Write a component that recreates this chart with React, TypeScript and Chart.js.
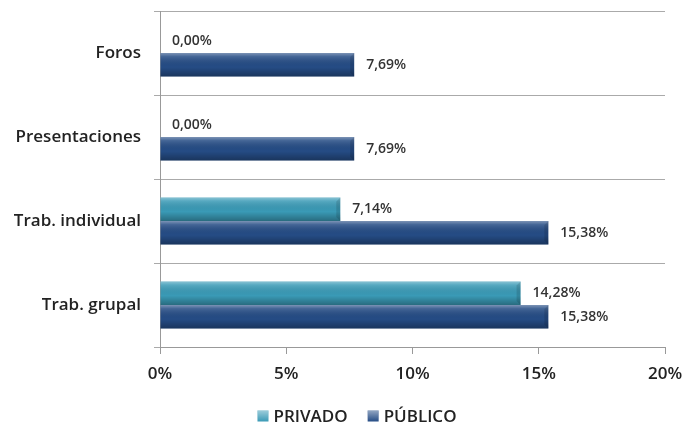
import React, { useEffect, useRef } from "react";
import { Chart, registerables } from "chart.js";
Chart.register(...registerables);

const categories = ["Foros", "Presentaciones", "Trab. individual", "Trab. grupal"];
const privado = [0.0, 0.0, 7.14, 14.28];
const publico = [7.69, 7.69, 15.38, 15.38];
const seriesNames = ["PRIVADO", "PÚBLICO"];
const seriesColors = ["#3A9AB6", "#254C85"];
const xTicks = [0, 5, 10, 15, 20];

const FONT = "'Open Sans', Lato, sans-serif";

const fmt = (v: number) => v.toFixed(2).replace(".", ",") + "%";

const bevelPlugin = {
  id: "bevel",
  afterDatasetsDraw(chart: any) {
    const ctx = chart.ctx;
    chart.data.datasets.forEach((ds: any, di: number) => {
      const meta = chart.getDatasetMeta(di);
      meta.data.forEach((bar: any, i: number) => {
        const { x, y, base, height } = bar.getProps(["x", "y", "base", "height"], true);
        const top = y - height / 2;
        const w = x - base;
        if (w > 1) {
          const g = ctx.createLinearGradient(0, top, 0, top + height);
          g.addColorStop(0, "rgba(255,255,255,0.4)");
          g.addColorStop(0.15, "rgba(255,255,255,0.15)");
          g.addColorStop(0.6, "rgba(0,0,0,0)");
          g.addColorStop(1, "rgba(0,0,0,0.3)");
          ctx.save();
          ctx.fillStyle = g;
          ctx.fillRect(base, top, w, height);
          ctx.fillStyle = "rgba(0,0,0,0.12)";
          ctx.beginPath();
          ctx.moveTo(x, top);
          ctx.lineTo(x - 4, top + 4);
          ctx.lineTo(x - 4, top + height - 4);
          ctx.lineTo(x, top + height);
          ctx.closePath();
          ctx.fill();
          ctx.restore();
        }
        const val = ds.data[i];
        ctx.save();
        ctx.font = `600 14px ${FONT}`;
        ctx.fillStyle = "#333";
        ctx.textAlign = "left";
        ctx.textBaseline = "middle";
        ctx.fillText(fmt(val), x + 12, y);
        ctx.restore();
      });
    });
  },
  afterDraw(chart: any) {
    const ctx = chart.ctx;
    ctx.save();
    ctx.font = `600 17px ${FONT}`;
    const box = 11;
    const gapBox = 5;
    const gapItem = 20;
    const widths = seriesNames.map((n) => box + gapBox + ctx.measureText(n).width);
    const total = widths.reduce((a, b) => a + b, 0) + gapItem * (seriesNames.length - 1);
    let x = chart.width / 2 + 15 - total / 2;
    const cy = 416;
    seriesNames.forEach((n, i) => {
      const g = ctx.createLinearGradient(0, cy - box / 2, 0, cy + box / 2);
      g.addColorStop(0, "rgba(255,255,255,0.5)");
      g.addColorStop(1, "rgba(255,255,255,0)");
      ctx.fillStyle = seriesColors[i];
      ctx.fillRect(x, cy - box / 2, box, box);
      ctx.fillStyle = g;
      ctx.fillRect(x, cy - box / 2, box, box);
      ctx.fillStyle = "#222";
      ctx.textAlign = "left";
      ctx.textBaseline = "middle";
      ctx.fillText(n, x + box + gapBox, cy + 1);
      x += widths[i] + gapItem;
    });
    ctx.restore();
  },
};

export default function App() {
  const ref = useRef<HTMLCanvasElement>(null);
  useEffect(() => {
    const chart = new Chart(ref.current!, {
      type: "bar",
      data: {
        labels: categories,
        datasets: [
          { label: seriesNames[0], data: privado, backgroundColor: seriesColors[0], borderWidth: 0 },
          { label: seriesNames[1], data: publico, backgroundColor: seriesColors[1], borderWidth: 0 },
        ],
      },
      options: {
        indexAxis: "y",
        animation: false,
        responsive: false,
        maintainAspectRatio: false,
        layout: { padding: { top: 11, right: 19, left: 0, bottom: 38 } },
        datasets: { bar: { barPercentage: 1, categoryPercentage: 0.56 } },
        scales: {
          x: {
            min: 0,
            max: 20,
            afterBuildTicks: (s: any) => {
              s.ticks = xTicks.map((v) => ({ value: v }));
            },
            afterFit: (s: any) => {
              s.height = 42;
              s.paddingLeft = 0;
              s.paddingRight = 0;
            },
            grid: { drawOnChartArea: false, drawTicks: true, tickLength: 7, color: "#999" },
            border: { color: "#999" },
            ticks: {
              callback: (v: any) => v + "%",
              font: { family: FONT, size: 17, weight: "600" },
              color: "#222",
              padding: 10,
            },
          },
          y: {
            afterFit: (s: any) => {
              s.width = 160;
              s.paddingTop = 0;
              s.paddingBottom = 0;
            },
            grid: { color: "#aaa", tickLength: 6, offset: true },
            border: { color: "#999" },
            ticks: {
              font: { family: FONT, size: 17, weight: "600" },
              color: "#222",
              padding: 13,
            },
          },
        },
        plugins: {
          legend: { display: false },
          tooltip: { enabled: false },
        },
      },
      plugins: [bevelPlugin],
    });
    return () => chart.destroy();
  }, []);
  return (
    <div style={{ position: "fixed", left: 0, top: 0, width: 684, height: 427, background: "#fff" }}>
      <canvas ref={ref} width={684} height={427} style={{ width: 684, height: 427 }} />
    </div>
  );
}
